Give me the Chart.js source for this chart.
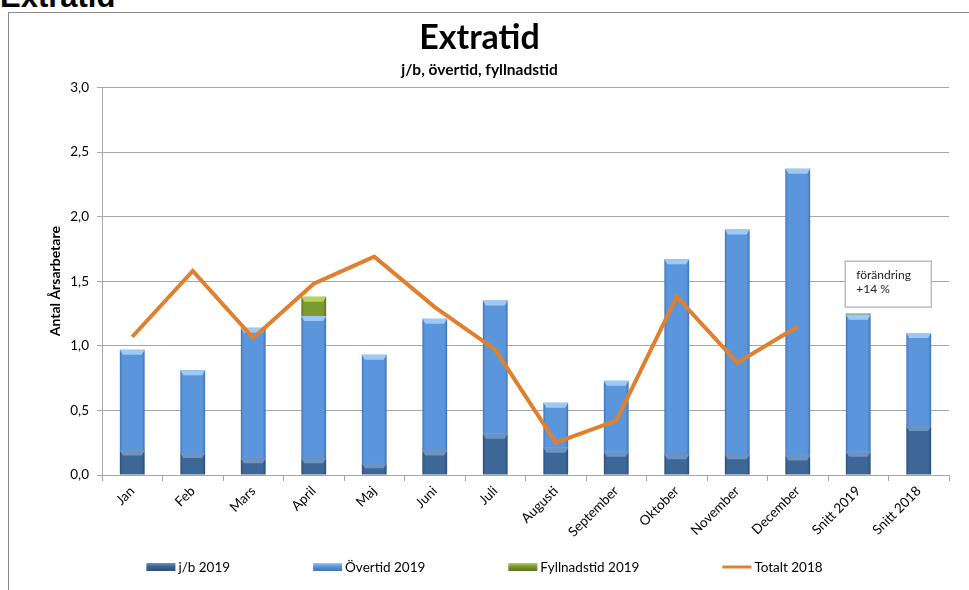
<!DOCTYPE html>
<html>
<head>
<meta charset="utf-8">
<script src="https://cdn.jsdelivr.net/npm/chart.js@4.4.1/dist/chart.umd.min.js"></script>
<style>
  body { margin: 0; background: #fff; width: 969px; height: 590px; overflow: hidden; position: relative; }
  #rubrik { position: absolute; left: 0; top: -19px; font: bold 31px "Liberation Sans", Arial, sans-serif; line-height: 1; color: #000; }
  #ram { position: absolute; left: 8px; top: 12px; width: 2000px; height: 2000px; border-left: 1.5px solid #8c8c8c; border-top: 1.5px solid #8c8c8c; }
  #graf { position: absolute; left: 0; top: 0; }
</style>
</head>
<body>
<div id="rubrik">Extratid</div>
<div id="ram"></div>
<canvas id="graf" width="969" height="590"></canvas>
<script>
// Kategorier och värden
const manader = ['Jan', 'Feb', 'Mars', 'April', 'Maj', 'Juni', 'Juli', 'Augusti', 'September', 'Oktober', 'November', 'December', 'Snitt 2019', 'Snitt 2018'];
const jb2019 = [0.19, 0.17, 0.13, 0.13, 0.09, 0.19, 0.32, 0.21, 0.18, 0.16, 0.16, 0.15, 0.18, 0.38];
const overtid2019 = [0.78, 0.64, 1.01, 1.10, 0.84, 1.02, 1.03, 0.35, 0.55, 1.51, 1.74, 2.22, 1.06, 0.72];
const fyllnadstid2019 = [0, 0, 0, 0.15, 0, 0, 0, 0, 0, 0, 0, 0, 0.01, 0];
const totalt2018 = [1.07, 1.58, 1.06, 1.48, 1.69, 1.30, 0.97, 0.25, 0.42, 1.38, 0.87, 1.15, null, null];
const yTicks = [0, 0.5, 1, 1.5, 2, 2.5, 3];
const notisText = ['förändring', '+14 %'];

const FONT = 'Lato, "Open Sans", sans-serif';
const barPct = 0.41;

// färger: [mörk kant, bas, ljus topp]
const farger = {
  jb: ['#2c4d78', '#3d6797', '#6b93c4'],
  ov: ['#3f74b8', '#5b96dc', '#9ccaf5'],
  fy: ['#5a7420', '#7b9a32', '#b6d35a']
};

function stapelFarg(f) {
  return function (ctx) {
    const chart = ctx.chart;
    if (!chart.chartArea) return f[1];
    const xs = chart.scales.x;
    const cx = xs.getPixelForValue(ctx.dataIndex);
    const hw = xs.width / manader.length * barPct / 2;
    const g = chart.ctx.createLinearGradient(cx - hw, 0, cx + hw, 0);
    g.addColorStop(0, f[0]);
    g.addColorStop(0.1, f[1]);
    g.addColorStop(0.88, f[1]);
    g.addColorStop(1, f[0]);
    return g;
  };
}

// ljus fasad överst på varje staplad bit
const fasad = {
  id: 'fasad',
  afterDatasetDraw(chart, args) {
    const ds = chart.data.datasets[args.index];
    if (ds.type === 'line') return;
    const c = chart.ctx;
    const f = ds.farg;
    args.meta.data.forEach((el, i) => {
      if (!ds.data[i]) return;
      const p = el.getProps(['x', 'y', 'base', 'width'], true);
      const h = Math.min(5, p.base - p.y);
      if (h < 1.5) return;
      const l = p.x - p.width / 2, r = p.x + p.width / 2;
      c.save();
      c.fillStyle = f[2];
      c.beginPath();
      c.moveTo(l, p.y);
      c.lineTo(r, p.y);
      c.lineTo(r - 3, p.y + h);
      c.lineTo(l + 3, p.y + h);
      c.closePath();
      c.fill();
      c.restore();
    });
  }
};

// egen förklaring längst ner
const forklaring = {
  id: 'forklaring',
  afterDraw(chart) {
    const c = chart.ctx;
    const ds = chart.data.datasets;
    c.save();
    c.font = '13.5px ' + FONT;
    c.textBaseline = 'middle';
    const box = 29, gap = 3, mellan = 83;
    const bredder = ds.map(d => box + gap + c.measureText(d.label).width);
    const total = bredder.reduce((a, b) => a + b, 0) + mellan * (ds.length - 1);
    let x = (chart.width - total) / 2;
    const y = 567;
    ds.forEach((d, i) => {
      if (d.type === 'line') {
        c.strokeStyle = d.borderColor;
        c.lineWidth = 3;
        c.beginPath();
        c.moveTo(x, y);
        c.lineTo(x + box, y);
        c.stroke();
      } else {
        const g = c.createLinearGradient(0, y - 4, 0, y + 4);
        g.addColorStop(0, d.farg[2]);
        g.addColorStop(0.4, d.farg[1]);
        g.addColorStop(1, d.farg[0]);
        c.fillStyle = g;
        c.fillRect(x, y - 4, box, 8);
      }
      c.fillStyle = '#000';
      c.fillText(d.label, x + box + gap, y + 1);
      x += bredder[i] + mellan;
    });
    c.restore();
  }
};

// textruta vid Snitt 2019
const notis = {
  id: 'notis',
  afterDraw(chart) {
    const xs = chart.scales.x, ys = chart.scales.y;
    const cx = xs.getPixelForValue(12);
    const l = cx - 13, r = cx + 73;
    const t = ys.getPixelForValue(1.655), b = ys.getPixelForValue(1.3);
    const c = chart.ctx;
    c.save();
    c.fillStyle = '#fff';
    c.fillRect(l, t, r - l, b - t);
    c.strokeStyle = '#bdbdbd';
    c.lineWidth = 1.5;
    c.strokeRect(l, t, r - l, b - t);
    c.fillStyle = '#222';
    c.font = '12px ' + FONT;
    c.textBaseline = 'middle';
    notisText.forEach((s, i) => c.fillText(s, l + 11, t + 14 + i * 14));
    c.restore();
  }
};

const ctx = document.getElementById('graf').getContext('2d');
new Chart(ctx, {
  type: 'bar',
  data: {
    labels: manader,
    datasets: [
      { label: 'j/b 2019', data: jb2019, stack: 's', farg: farger.jb, backgroundColor: stapelFarg(farger.jb), order: 1 },
      { label: 'Övertid 2019', data: overtid2019, stack: 's', farg: farger.ov, backgroundColor: stapelFarg(farger.ov), order: 1 },
      { label: 'Fyllnadstid 2019', data: fyllnadstid2019, stack: 's', farg: farger.fy, backgroundColor: stapelFarg(farger.fy), order: 1 },
      { label: 'Totalt 2018', data: totalt2018, type: 'line', stack: 'linje', borderColor: '#e0802f', borderWidth: 4,
        pointRadius: 0, tension: 0, fill: false, spanGaps: false, order: 0 }
    ]
  },
  options: {
    responsive: false,
    animation: false,
    datasets: { bar: { barPercentage: barPct, categoryPercentage: 1 } },
    layout: { padding: { left: 10, right: 20, top: 0, bottom: 40 } },
    plugins: {
      legend: { display: false },
      tooltip: { enabled: false },
      title: {
        display: true, text: 'Extratid', color: '#000',
        font: { family: FONT, size: 34, weight: 'bold' },
        padding: { top: 18, bottom: 0 }
      },
      subtitle: {
        display: true, text: 'j/b, övertid, fyllnadstid', color: '#000',
        font: { family: FONT, size: 15.5, weight: 'bold' },
        padding: { top: 2, bottom: 8 }
      }
    },
    scales: {
      x: {
        stacked: true,
        grid: { offset: true, drawOnChartArea: false, drawTicks: true, tickLength: 6, color: '#a6a6a6' },
        border: { color: '#a6a6a6' },
        ticks: { color: '#000', font: { family: FONT, size: 13.5 }, minRotation: 45, maxRotation: 45, autoSkip: false, padding: 2 },
        afterFit(s) { s.height = 75; }
      },
      y: {
        stacked: true,
        min: 0, max: 3,
        afterBuildTicks(s) { s.ticks = yTicks.map(v => ({ value: v })); },
        grid: { color: '#a6a6a6', tickLength: 5 },
        border: { color: '#a6a6a6' },
        ticks: {
          color: '#000', font: { family: FONT, size: 13.5 }, padding: 8,
          callback: v => v.toFixed(1).replace('.', ',')
        },
        title: {
          display: true, text: 'Antal Årsarbetare', color: '#000',
          font: { family: FONT, size: 14, weight: 'bold' },
          padding: { top: 37, bottom: 0 }
        },
        afterFit(s) { s.width = 92; }
      }
    }
  },
  plugins: [fasad, notis, forklaring]
});
</script>
</body>
</html>
